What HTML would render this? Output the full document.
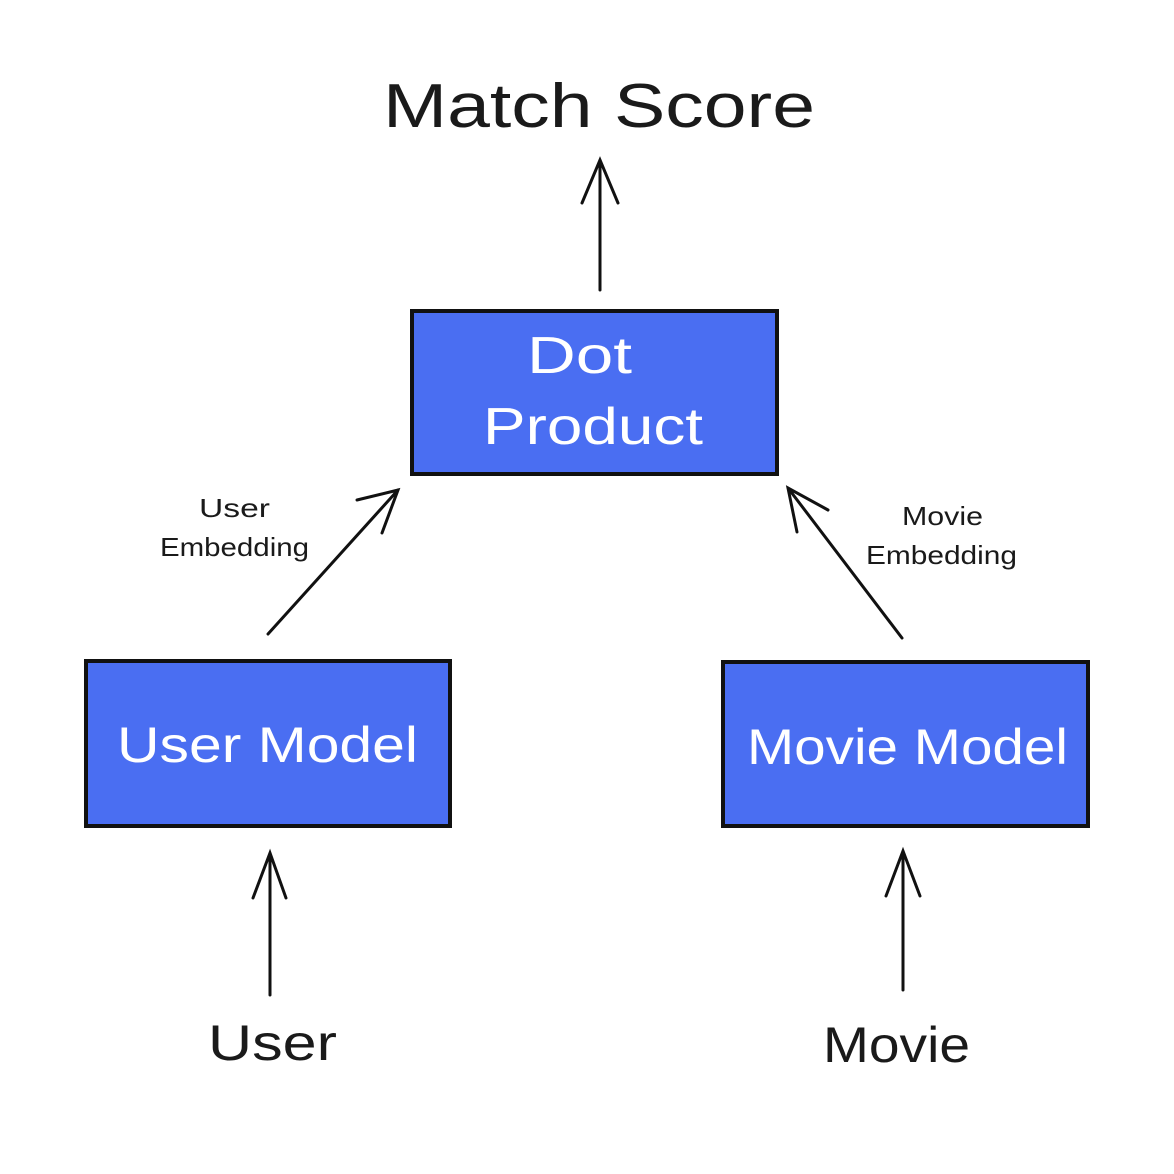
<!DOCTYPE html>
<html><head><style>
html,body{margin:0;padding:0;background:#fff;}
svg text{font-family:"Liberation Sans",sans-serif;}
</style></head><body>
<svg width="1174" height="1169" viewBox="0 0 1174 1169" xmlns="http://www.w3.org/2000/svg">
<rect width="1174" height="1169" fill="#fff"/>
<g stroke="#111" stroke-width="4" fill="#4a6ef2">
<rect x="412" y="311" width="365" height="163"/>
<rect x="86" y="661" width="364" height="165"/>
<rect x="723" y="662" width="365" height="164"/>
</g>
<g stroke="#111" stroke-width="3" fill="none" stroke-linecap="round">
<path d="M600 290 L600 160 M582 203 L600 160 L618 203"/>
<path d="M270 995 L270 853 M253 898 L270 853 L286 898"/>
<path d="M903 990 L903 851 M886 896 L903 851 L920 896"/>
<path d="M268 634 L398 490 M357 500 L398 490 L382 533"/>
<path d="M902 638 L788 488 M797 532 L788 488 L828 510"/>
</g>
<g fill="#1a1a1a" lengthAdjust="spacingAndGlyphs">
<text x="383" y="127" font-size="62" textLength="432" lengthAdjust="spacingAndGlyphs">Match Score</text>
<text x="208" y="1060" font-size="50" textLength="129" lengthAdjust="spacingAndGlyphs">User</text>
<text x="823" y="1062" font-size="50" textLength="147" lengthAdjust="spacingAndGlyphs">Movie</text>
<text x="199" y="517" font-size="26" textLength="71" lengthAdjust="spacingAndGlyphs">User</text>
<text x="160" y="556" font-size="26" textLength="149" lengthAdjust="spacingAndGlyphs">Embedding</text>
<text x="902" y="525" font-size="26" textLength="81" lengthAdjust="spacingAndGlyphs">Movie</text>
<text x="866" y="564" font-size="26" textLength="151" lengthAdjust="spacingAndGlyphs">Embedding</text>
</g>
<g fill="#fff">
<text x="527" y="373" font-size="52" textLength="105" lengthAdjust="spacingAndGlyphs">Dot</text>
<text x="483" y="444" font-size="52" textLength="220" lengthAdjust="spacingAndGlyphs">Product</text>
<text x="117" y="762" font-size="50" textLength="301" lengthAdjust="spacingAndGlyphs">User Model</text>
<text x="747" y="764" font-size="50" textLength="321" lengthAdjust="spacingAndGlyphs">Movie Model</text>
</g>
</svg>
</body></html>
